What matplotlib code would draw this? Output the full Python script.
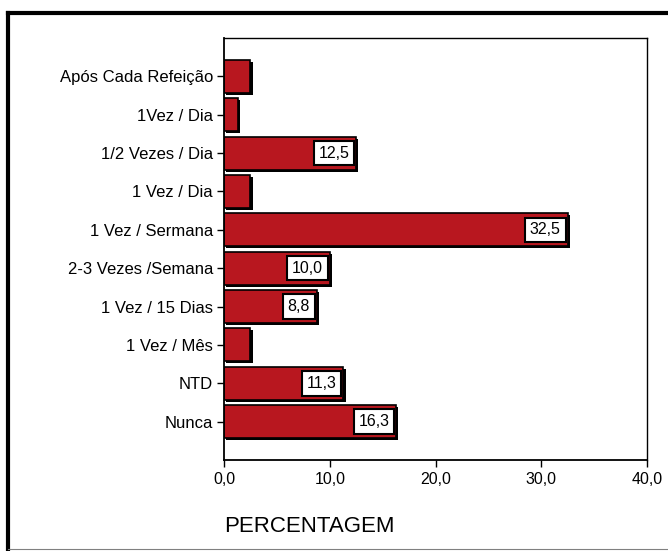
import matplotlib
matplotlib.use('Agg')
import matplotlib.pyplot as plt
import matplotlib.patheffects as pe
from matplotlib.lines import Line2D

plt.rcParams['font.family'] = ['Liberation Sans', 'DejaVu Sans']

categorias = ['Após Cada Refeição', '1Vez / Dia', '1/2 Vezes / Dia', '1 Vez / Dia',
              '1 Vez / Sermana', '2-3 Vezes /Semana', '1 Vez / 15 Dias', '1 Vez / Mês',
              'NTD', 'Nunca']
valores = [2.5, 1.3, 12.5, 2.5, 32.5, 10.0, 8.8, 2.5, 11.3, 16.3]
rotulos = ['', '', '12,5', '', '32,5', '10,0', '8,8', '', '11,3', '16,3']
xticks = [0, 10, 20, 30, 40]
xlabels = ['0,0', '10,0', '20,0', '30,0', '40,0']

fig = plt.figure(figsize=(6.68, 5.51), dpi=100)
ax = fig.add_axes([224/668, 1-460/551, (647-224)/668, (460-38)/551])

pos = list(range(len(categorias)))
sombra = [pe.SimplePatchShadow(offset=(1.5, -1.5), shadow_rgbFace='black', alpha=1), pe.Normal()]
bars = ax.barh(pos, valores, height=0.86, color='#b8171f', edgecolor='black', linewidth=1.2)
for b in bars:
    b.set_path_effects(sombra)

for p, v, t in zip(pos, valores, rotulos):
    if t:
        txt = ax.annotate(t, (v, p), xytext=(-5, 0), textcoords='offset points',
                          ha='right', va='center', fontsize=11.5,
                          bbox=dict(boxstyle='square,pad=0.3', fc='white', ec='black', lw=1.5))

ax.set_ylim(len(categorias), -1)
ax.set_xlim(0, 40)
ax.set_yticks(pos)
ax.set_yticklabels(categorias, fontsize=12)
ax.set_xticks(xticks)
ax.set_xticklabels(xlabels, fontsize=11.5)
ax.tick_params(axis='y', length=5, width=1, pad=3)
ax.tick_params(axis='x', length=5, width=1, pad=4)
for s in ['left', 'bottom']:
    ax.spines[s].set_linewidth(1.3)
for s in ['top', 'right']:
    ax.spines[s].set_linewidth(1.0)

fig.text(224/668, 1-527/551, 'PERCENTAGEM', fontsize=16, ha='left', va='center')

# moldura
fig.add_artist(Line2D([8/668, 8/668], [0, 1-13/551], color='black', lw=3, transform=fig.transFigure))
fig.add_artist(Line2D([8/668, 1], [1-13/551, 1-13/551], color='black', lw=3, transform=fig.transFigure))
fig.add_artist(Line2D([8/668, 1], [1-549/551, 1-549/551], color='0.5', lw=0.8, transform=fig.transFigure))

fig.savefig('out.png', dpi=100)
